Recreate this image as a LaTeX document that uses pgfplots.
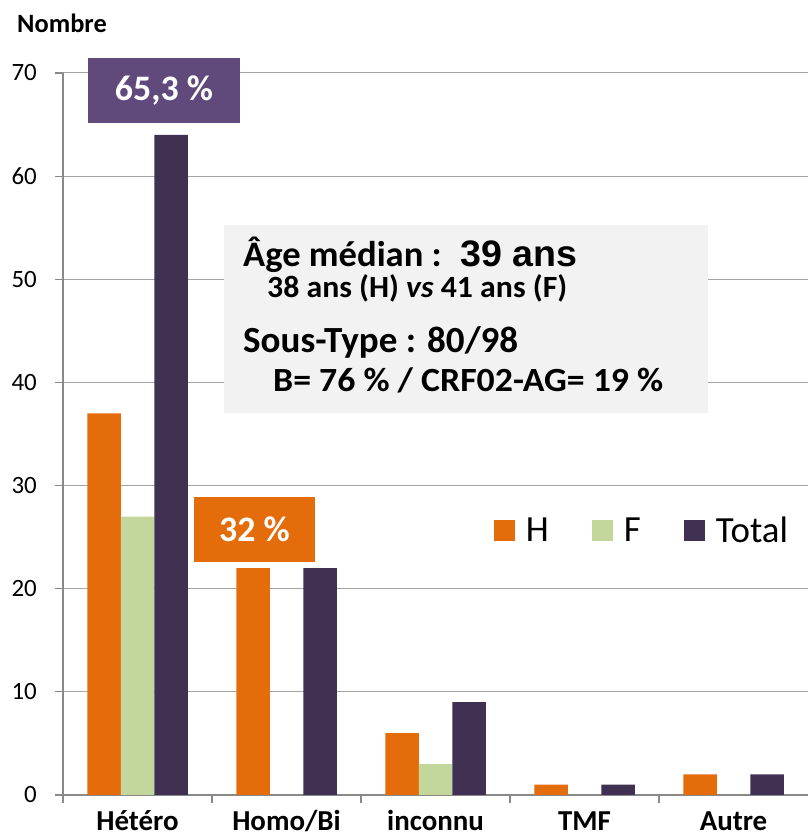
\documentclass[border=0pt]{standalone}
\usepackage{pgfplots}
\pgfplotsset{compat=1.18}
\usepackage{fontspec}
\setmainfont{Carlito}
\newfontfamily\arialfont{Liberation Sans}
\usepackage{graphicx}
\definecolor{cH}{HTML}{E46C0A}
\definecolor{cF}{HTML}{C3D69B}
\definecolor{cT}{HTML}{403152}
\definecolor{cBox}{HTML}{604A7B}
\definecolor{axgray}{HTML}{898989}
\definecolor{grgray}{HTML}{A3A3A3}
\definecolor{tbox}{HTML}{F2F2F2}
\pgfplotsset{sqleg/.style={legend image code/.code={\fill[##1] (0bp,-10.5bp) rectangle (21bp,10.5bp);}}}
\begin{document}
\begin{tikzpicture}[x=1bp,y=1bp]
\useasboundingbox (0,0) rectangle (808,839);
\begin{axis}[
  at={(63bp,44bp)}, anchor=south west,
  scale only axis, width=745bp, height=722bp,
  ybar=0pt, bar width=33.5bp,
  xmin=-0.5, xmax=4.5, ymin=0, ymax=70,
  enlargelimits=false,
  axis lines*=left,
  axis line style={axgray, line width=1.2bp},
  ytick={0,10,...,70},
  ymajorgrids, grid style={grgray, line width=1bp},
  tick align=outside,
  major tick length=8bp,
  tick style={axgray, line width=1.2bp},
  xtick={-0.5,0.5,1.5,2.5,3.5},
  xticklabels={},
  extra x ticks={0,1,2,3,4},
  extra x tick labels={Hétéro,Homo/Bi,inconnu,TMF,Autre},
  extra x tick style={major tick length=0pt, grid=none,
    xticklabel style={anchor=base, yshift=-36bp, font=\bfseries\fontsize{29}{29}\selectfont}},
  yticklabel style={anchor=east, inner sep=0pt, xshift=-18bp, font=\fontsize{25}{25}\selectfont},
  /pgf/number format/assume math mode=true,
  ylabel={Nombre},
  every axis y label/.style={at={(rel axis cs:-0.0617,1.0554)}, anchor=base west, inner sep=0pt, font=\bfseries\fontsize{26.5}{26.5}\selectfont},
  legend columns=3,
  legend style={at={(rel axis cs:0.5785,0.3663)}, anchor=west, draw=none, fill=none,
    inner sep=0pt, outer sep=0pt, font=\fontsize{37}{37}\selectfont,
    nodes={inner sep=0pt},
    /tikz/every odd column/.append style={column sep=11bp},
    /tikz/every even column/.append style={column sep=43bp}},
]
\fill[white] (axis cs:1.95,20.15) rectangle (axis cs:4.5,29.95);
\addplot[fill=cH, draw=none, sqleg] coordinates {(0,37) (1,22) (2,6) (3,1) (4,2)};
\addplot[fill=cF, draw=none, sqleg] coordinates {(0,27) (2,3)};
\addplot[fill=cT, draw=none, sqleg] coordinates {(0,64) (1,22) (2,9) (3,1) (4,2)};
\legend{H,F,Total}
\end{axis}
% percentage boxes
\node[fill=cBox, minimum width=152bp, minimum height=65bp, inner sep=0pt, text=white,
  font=\bfseries\fontsize{36}{36}\selectfont] at (164,748.5) {65,3 \%};
\node[fill=cH, minimum width=121bp, minimum height=65bp, inner sep=0pt, text=white,
  font=\bfseries\fontsize{36}{36}\selectfont] at (254.5,309.5) {32 \%};
% text box
\fill[tbox] (224,426) rectangle (708,614);
\node[anchor=base west, inner sep=0pt] at (243,572)
  {\resizebox{334bp}{\height}{\bfseries\fontsize{36}{36}\selectfont Âge médian :\hspace{18bp}{\arialfont\bfseries\fontsize{37}{37}\selectfont 39 ans}}};
\node[anchor=base west, inner sep=0pt] at (267,541)
  {\resizebox{300bp}{\height}{\bfseries\fontsize{31}{31}\selectfont 38 ans (H) \textit{vs} 41 ans (F)}};
\node[anchor=base west, inner sep=0pt] at (243,486)
  {\resizebox{275bp}{\height}{\bfseries\fontsize{37}{37}\selectfont Sous-Type : 80/98}};
\node[anchor=base west, inner sep=0pt] at (273,447)
  {\resizebox{390bp}{\height}{\bfseries\fontsize{34}{34}\selectfont B= 76 \% / CRF02-AG= 19 \%}};
\end{tikzpicture}
\end{document}
